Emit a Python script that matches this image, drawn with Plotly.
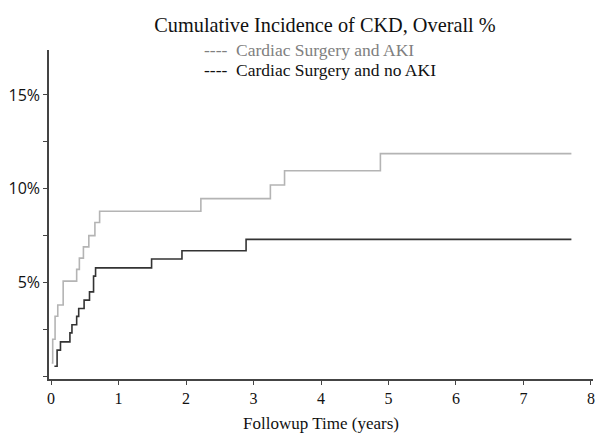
import plotly.graph_objects as go

# Data (years, cumulative incidence %)
aki_time = [0.01, 0.025, 0.06, 0.10, 0.18, 0.38, 0.42, 0.48, 0.56, 0.65, 0.72, 2.22, 3.25, 3.46, 4.88, 7.71]
aki_pct = [0.7, 1.97, 3.2, 3.8, 5.07, 5.7, 6.3, 6.9, 7.5, 8.2, 8.8, 9.47, 10.2, 10.96, 11.87, 11.87]

noaki_time = [0.05, 0.09, 0.14, 0.28, 0.31, 0.38, 0.41, 0.49, 0.57, 0.63, 0.66, 1.49, 1.94, 2.89, 7.71]
noaki_pct = [0.53, 1.39, 1.83, 2.31, 2.74, 3.19, 3.61, 4.06, 4.5, 5.34, 5.78, 6.25, 6.69, 7.3, 7.3]

x_ticks = [0, 1, 2, 3, 4, 5, 6, 7, 8]
y_ticks = [0, 2.5, 5, 7.5, 10, 12.5, 15]
y_labels = ["", "", "5%", "", "10%", "", "15%"]

title_text = "Cumulative Incidence of CKD, Overall %"
legend_aki = "----  Cardiac Surgery and AKI"
legend_noaki = "----  Cardiac Surgery and no AKI"
x_title = "Followup Time (years)"

GRAY = "#b4b4b4"
DARK = "#333333"
SERIF = "Liberation Serif, DejaVu Serif, serif"
SANS = "Open Sans, Liberation Sans, sans-serif"

fig = go.Figure()
fig.add_trace(go.Scatter(x=aki_time, y=aki_pct, mode="lines", line_shape="hv",
                         line=dict(color=GRAY, width=1.6), name="Cardiac Surgery and AKI",
                         showlegend=False))
fig.add_trace(go.Scatter(x=noaki_time, y=noaki_pct, mode="lines", line_shape="hv",
                         line=dict(color=DARK, width=1.6), name="Cardiac Surgery and no AKI",
                         showlegend=False))

fig.update_layout(
    width=598, height=433,
    margin=dict(l=49, r=3, t=50, b=54),
    paper_bgcolor="white", plot_bgcolor="white",
    title=dict(text=title_text, x=(326 - 49) / 546, xref="paper", xanchor="center",
               y=1 - 25 / 433, yref="container", yanchor="middle",
               font=dict(family=SERIF, size=20.3, color="#111111")),
    xaxis=dict(range=[-0.03, 8.03], tickvals=x_ticks, ticktext=[str(v) for v in x_ticks],
               showgrid=False, zeroline=False, showline=True, linecolor="#444444", linewidth=1.5,
               ticks="outside", ticklen=4, tickcolor="#444444", tickwidth=1.2,
               tickfont=dict(family=SERIF, size=16, color="#111111"),
               title=dict(text=x_title, font=dict(family=SERIF, size=17, color="#111111"), standoff=11)),
    yaxis=dict(range=[-0.15, 17.4], tickvals=y_ticks, ticktext=y_labels,
               showgrid=False, zeroline=False, showline=True, linecolor="#444444", linewidth=1.5,
               ticks="outside", ticklen=4, tickcolor="#444444", tickwidth=1.2,
               tickfont=dict(family=SANS, size=16, color="#111111")),
)

fig.add_annotation(x=(203 - 49) / 546, y=(379 - 50) / 329, xref="paper", yref="paper",
                   xanchor="left", yanchor="middle", showarrow=False,
                   text=legend_aki, font=dict(family=SERIF, size=17.5, color="#808080"))
fig.add_annotation(x=(203 - 49) / 546, y=(379 - 70) / 329, xref="paper", yref="paper",
                   xanchor="left", yanchor="middle", showarrow=False,
                   text=legend_noaki, font=dict(family=SERIF, size=17.5, color="#111111"))

fig.write_html("out.html")
